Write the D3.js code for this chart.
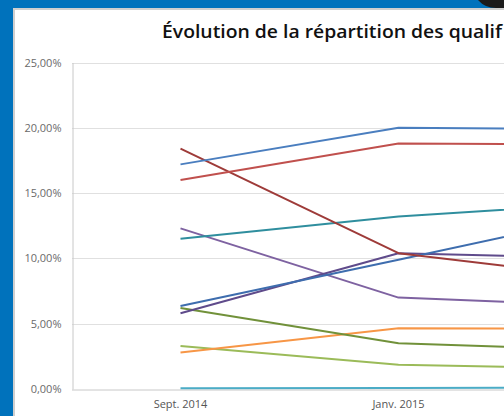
<!DOCTYPE html>
<html><head><meta charset="utf-8">
<script src="https://cdn.jsdelivr.net/npm/d3@7"></script>
<style>html,body{margin:0;padding:0;overflow:hidden;background:#0072BC}svg{display:block}</style>
</head><body>
<script>
const categories = ["Sept. 2014", "Janv. 2015", "Juin 2015"];
const visibleTicks = ["Sept. 2014", "Janv. 2015"];
const yTicks = [0, 5, 10, 15, 20, 25];
const titleText = "Évolution de la répartition des qualif";

const serieBleu      = [17.2, 20.0, 19.9];
const serieRouge     = [16.0, 18.8, 18.7];
const serieBordeaux  = [18.4, 10.4, 8.4];
const serieTurquoise = [11.5, 13.2, 14.3];
const serieViolet    = [12.3, 7.0, 6.35];
const serieBleu2     = [6.35, 9.9, 13.5];
const serieViolet2   = [5.8, 10.4, 10.0];
const serieVertFonce = [6.2, 3.5, 2.95];
const serieOrange    = [2.8, 4.65, 4.6];
const serieVertClair = [3.3, 1.85, 1.55];
const serieCyan      = [0.05, 0.08, 0.1];

const series = [
  {v: serieCyan, c: "#4BACC6"},
  {v: serieVertClair, c: "#9BBB59"},
  {v: serieOrange, c: "#F79646"},
  {v: serieVertFonce, c: "#71913A"},
  {v: serieViolet, c: "#7E62A1"},
  {v: serieViolet2, c: "#5F4B8B"},
  {v: serieBleu2, c: "#3E6DAE"},
  {v: serieTurquoise, c: "#2F8E9E"},
  {v: serieBordeaux, c: "#9E3B39"},
  {v: serieRouge, c: "#C0504D"},
  {v: serieBleu, c: "#4A7EBF"}
];

const W = 504, H = 416;
const svg = d3.select("body").append("svg").attr("width", W).attr("height", H);

// frame
svg.append("rect").attr("width", W).attr("height", H).attr("fill", "#0072BC");
svg.append("path").attr("d", "M478,0 Q485,8 496,8 L504,8 L504,0 Z").attr("fill", "#1b1b1b");
svg.append("rect").attr("x", 13).attr("y", 8).attr("width", W - 13).attr("height", H - 8).attr("fill", "#cfcfcf");
svg.append("rect").attr("x", 15).attr("y", 10).attr("width", W - 15).attr("height", H - 10).attr("fill", "#ffffff");

// title
svg.append("text").attr("x", 162).attr("y", 38)
  .attr("font-family", "'Open Sans', Lato, sans-serif").attr("font-weight", "600")
  .attr("font-size", 18.5).attr("fill", "#111")
  .attr("textLength", 340).attr("lengthAdjust", "spacingAndGlyphs")
  .text(titleText);

const x = d3.scaleBand().domain(categories).range([71.5, 71.5 + 218 * categories.length]).padding(0);
const y = d3.scaleLinear().domain([0, 25]).range([389, 62.5]);
const xc = d => x(d) + x.bandwidth() / 2;

// gridlines
svg.append("g").selectAll("line").data(yTicks.filter(t => t > 0)).join("line")
  .attr("x1", 72).attr("x2", W).attr("y1", d => Math.round(y(d)) + 0.5).attr("y2", d => Math.round(y(d)) + 0.5)
  .attr("stroke", "#e0e0e0").attr("stroke-width", 1);

// y axis
const yAxis = svg.append("g").attr("transform", "translate(72.5,0)")
  .call(d3.axisLeft(y).tickValues(yTicks).tickSize(0).tickPadding(11)
    .tickFormat(d => d3.format(".2f")(d).replace(".", ",") + "%"));
yAxis.select(".domain").attr("stroke", "#c8c8c8");
yAxis.selectAll("text").attr("font-family", "'Open Sans', sans-serif").attr("font-size", 11).attr("fill", "#6a6a6a");

// x axis
const xAxis = svg.append("g").attr("transform", "translate(0," + (Math.round(y(0)) + 0.5) + ")")
  .call(d3.axisBottom(x).tickValues(visibleTicks).tickSize(0).tickPadding(11));
xAxis.select(".domain").attr("stroke", "#c8c8c8");
xAxis.selectAll("text").attr("font-family", "'Open Sans', sans-serif").attr("font-size", 11).attr("fill", "#555");

// lines
const line = d3.line().x((d, i) => xc(categories[i])).y(d => y(d));
svg.append("g").selectAll("path").data(series).join("path")
  .attr("d", d => line(d.v)).attr("fill", "none")
  .attr("stroke", d => d.c).attr("stroke-width", 2).attr("stroke-linejoin", "round");
</script>
</body></html>
